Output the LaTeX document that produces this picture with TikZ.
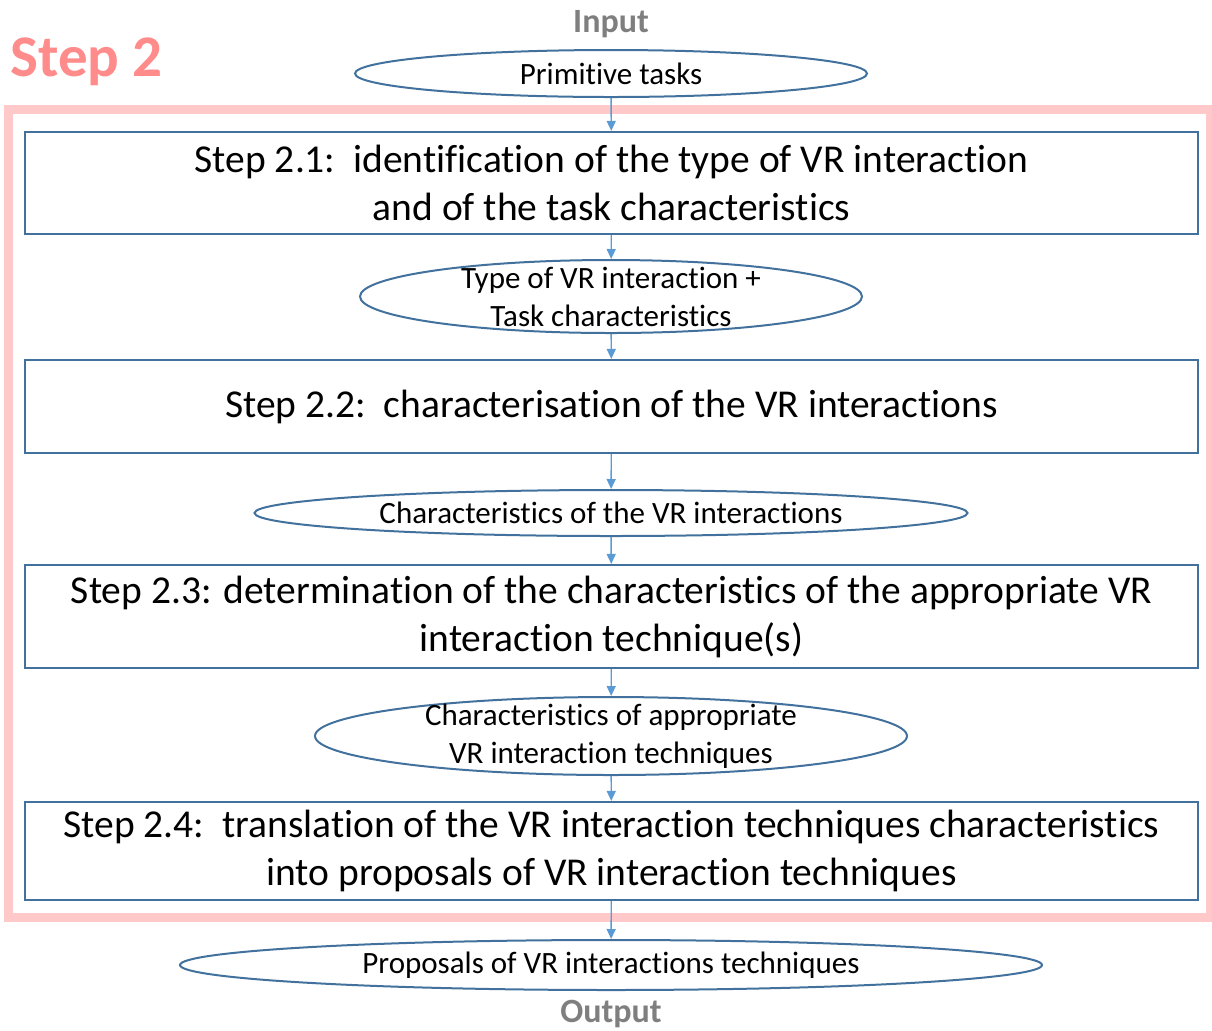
\documentclass[tikz,border=0pt]{standalone}
\usepackage{fontspec}
\setmainfont{Carlito}[Ligatures=NoCommon]
\usepackage{tikz}
\usetikzlibrary{arrows.meta,shapes.geometric}
\definecolor{framecol}{HTML}{FFC9C9}
\definecolor{titlecol}{HTML}{FF8B8B}
\definecolor{boxcol}{HTML}{41719C}
\definecolor{arrcol}{HTML}{5B9BD5}
\definecolor{labcol}{HTML}{7F7F7F}

\tikzset{
  stepbox/.style={draw=boxcol, line width=1.1pt, rectangle, minimum width=586.5pt, align=center, inner sep=0pt,
    font=\fontsize{19.75}{24}\selectfont},
  oval/.style={draw=boxcol, line width=1pt, ellipse, inner sep=0pt,
    label={[align=center, font=\fontsize{15.5}{19}\selectfont]center:#1}},
  flow/.style={arrcol, line width=0.7pt, -{Triangle[length=5pt,width=4.5pt]}},
  iolabel/.style={labcol, font=\fontsize{17}{20}\selectfont\bfseries}
}

\begin{document}
\begin{tikzpicture}[x=0.5pt, y=-0.5pt]
\useasboundingbox (0,0) rectangle (1212,1030);

\draw[framecol, line width=4.5pt] (8.5,109) rectangle (1210,917);
\node[titlecol, anchor=base west, inner sep=0pt, font=\fontsize{29.5}{34}\selectfont\bfseries] (steptitle) at (10,76) {Step 2};

\node[iolabel] (input) at (611,24) {Input};
\node[oval={Primitive tasks}, minimum width=256pt, minimum height=23.5pt] (prim) at (611,73.5) {};

\node[stepbox, minimum height=51pt] (step1) at (611.5,183) {Step 2.1:\ \ identification of the type of VR interaction\\and of the task characteristics};
\node[oval={Type of VR interaction +\\Task characteristics}, minimum width=251pt, minimum height=36.5pt] (typeint) at (611,296.5) {};

\node[stepbox, minimum height=46.5pt] (step2) at (611.5,406.5) {Step 2.2:\ \ characterisation of the VR interactions};
\node[oval={Characteristics of the VR interactions}, minimum width=356.5pt, minimum height=23pt] (charint) at (611,513) {};

\node[stepbox, minimum height=51.5pt] (step3) at (611.5,616.5) {Step 2.3: determination of the characteristics of the appropriate VR\\interaction technique(s)};
\node[oval={Characteristics of appropriate\\VR interaction techniques}, minimum width=296pt, minimum height=39pt] (charapp) at (611,736) {};

\node[stepbox, minimum height=49pt] (step4) at (611.5,851) {Step 2.4:\ \ translation of the VR interaction techniques characteristics\\into proposals of VR interaction techniques};
\node[oval={Proposals of VR interactions techniques}, minimum width=431pt, minimum height=25pt] (proposals) at (611,965) {};

\node[iolabel] (output) at (611,1014) {Output};

% connectors
\draw[flow] (prim) -- (step1);
\draw[flow] (step1) -- (typeint);
\draw[flow] (typeint) -- (step2);
\draw[flow] (step2) -- (charint);
\draw[flow] (charint) -- (step3);
\draw[flow] (step3) -- (charapp);
\draw[flow] (charapp) -- (step4);
\draw[flow] (step4) -- (proposals);
\end{tikzpicture}
\end{document}
